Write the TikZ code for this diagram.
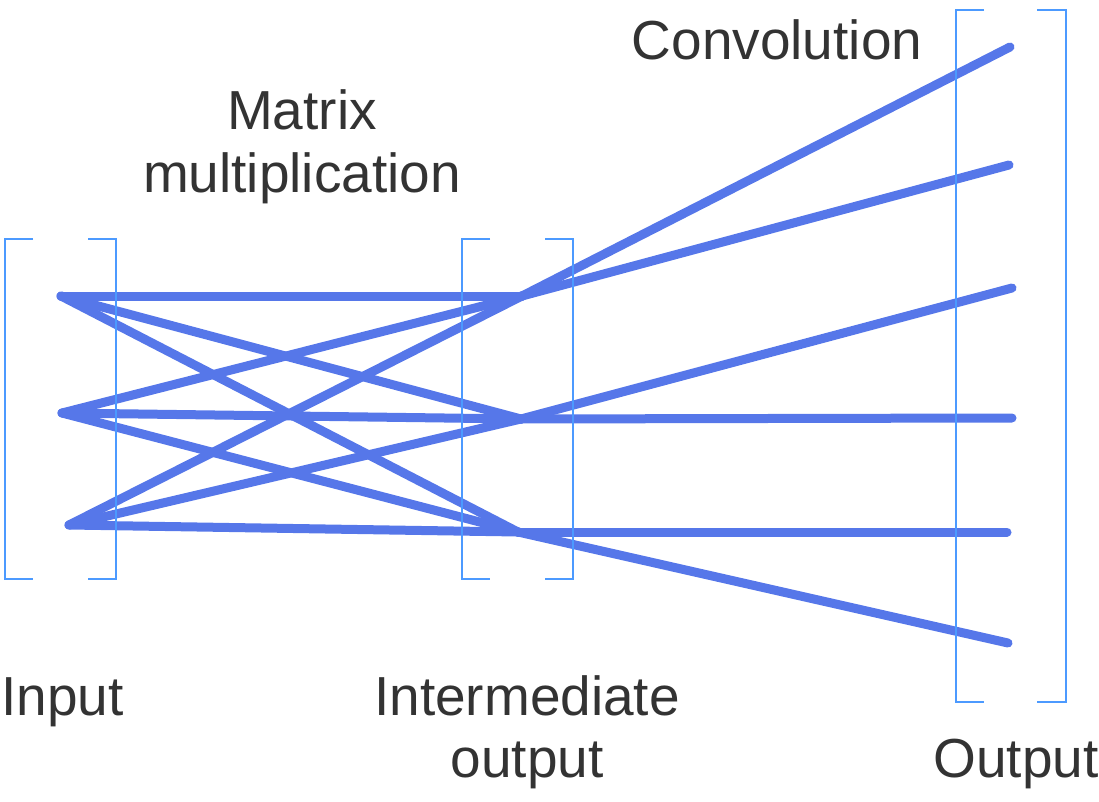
\documentclass[tikz,border=0pt]{standalone}
\usepackage{fontspec}
\setmainfont{Liberation Sans}
\definecolor{wire}{RGB}{86,119,233}
\definecolor{brk}{RGB}{76,154,255}
\definecolor{txt}{RGB}{51,51,51}
\begin{document}
\begin{tikzpicture}[x=1pt,y=-1pt,
  wire/.style={draw=wire,line width=9pt,line cap=round},
  bracketline/.style={draw=brk,line width=2pt},
  lbl/.style={text=txt,font=\fontsize{55}{63}\selectfont,anchor=base,inner sep=0pt}]
\useasboundingbox (0,0) rectangle (1099,802);
% points
\coordinate (i1) at (61,296);
\coordinate (i2) at (62,413);
\coordinate (i3) at (69,525);
\coordinate (m1) at (522,296);
\coordinate (m2) at (521,419);
\coordinate (m3) at (518,532);
\coordinate (o1) at (1010,47);
\coordinate (o2) at (1009,165);
\coordinate (o3) at (1012,288);
\coordinate (o4) at (1012,418);
\coordinate (o5) at (1007,532);
\coordinate (o6) at (1008,643);
% matrix multiplication wires
\foreach \a in {i1,i2,i3}{
  \foreach \b in {m1,m2,m3}{
    \draw[wire] (\a) -- (\b);
  }
}
% convolution wires
\draw[wire] (m1) -- (o1);
\draw[wire] (m1) -- (o2);
\draw[wire] (m2) -- (o3);
\draw[wire] (m2) -- (o4);
\draw[wire] (m3) -- (o5);
\draw[wire] (m3) -- (o6);
% brackets
\draw[bracketline] (33,239) -- (5,239) -- (5,579) -- (33,579);
\draw[bracketline] (88,239) -- (116,239) -- (116,579) -- (88,579);
\draw[bracketline] (490,239) -- (462,239) -- (462,579) -- (490,579);
\draw[bracketline] (545,239) -- (573,239) -- (573,579) -- (545,579);
\draw[bracketline] (984,10) -- (956,10) -- (956,702) -- (984,702);
\draw[bracketline] (1037,10) -- (1066,10) -- (1066,702) -- (1037,702);
% labels
\node[lbl] (conv) at (777,60) {Convolution};
\node[lbl] (mat1) at (302,130) {Matrix};
\node[lbl] (mat2) at (302,193) {multiplication};
\node[lbl,anchor=base west] (inp) at (1,715) {Input};
\node[lbl] (int1) at (527,715) {Intermediate};
\node[lbl] (int2) at (527,777) {output};
\node[lbl] (outp) at (1016,777) {Output};
\end{tikzpicture}
\end{document}
